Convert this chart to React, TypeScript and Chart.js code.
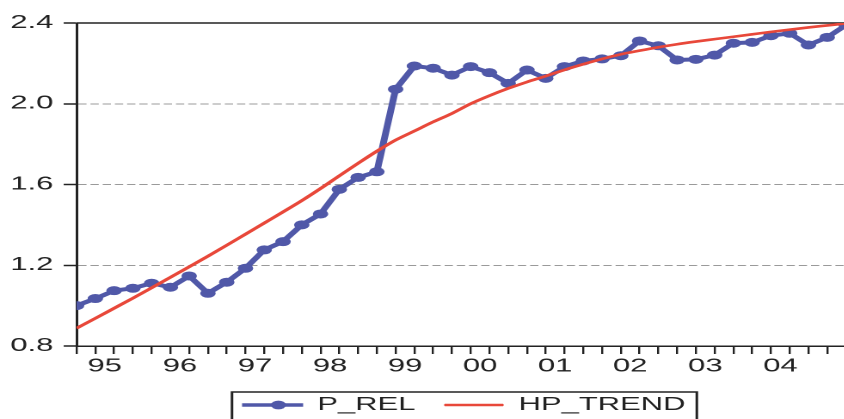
import React, { useEffect, useRef } from 'react';
import { Chart, registerables } from 'chart.js';

Chart.register(...registerables);

// Year tick labels shown on the axis (one label per year, centred on the year)
const yearLabels = ['95', '96', '97', '98', '99', '00', '01', '02', '03', '04'];
const quarterNames = ['Q1', 'Q2', 'Q3', 'Q4'];

const pRel = [
  1.0, 1.035, 1.074, 1.086,
  1.111, 1.091, 1.147, 1.061,
  1.116, 1.185, 1.276, 1.317,
  1.4, 1.454, 1.576, 1.635,
  1.663, 2.072, 2.187, 2.176,
  2.142, 2.184, 2.154, 2.101,
  2.167, 2.126, 2.184, 2.212,
  2.222, 2.238, 2.311, 2.287,
  2.217, 2.22, 2.241, 2.3,
  2.304, 2.337, 2.349, 2.291,
  2.329, 2.39,
];

const hpTrend = [
  0.888, 0.937, 0.987, 1.037,
  1.088, 1.14, 1.192, 1.245,
  1.299, 1.354, 1.409, 1.464,
  1.52, 1.58, 1.643, 1.705,
  1.765, 1.82, 1.865, 1.91,
  1.952, 2.0, 2.04, 2.076,
  2.108, 2.137, 2.168, 2.196,
  2.222, 2.245, 2.263, 2.28,
  2.295, 2.308, 2.32, 2.332,
  2.344, 2.356, 2.367, 2.378,
  2.388, 2.398,
];

// Quarterly observations 1995Q1 .. 2005Q2
const quarterLabels = pRel.map((_, i) => `${1995 + Math.floor(i / 4)}${quarterNames[i % 4]}`);

const yTicks = [0.8, 1.2, 1.6, 2.0, 2.4];

const BLUE = '#5058a8';
const RED = '#e8483a';
const INK = '#222222';
const FONT = "'Liberation Sans', Arial, sans-serif";
const STRETCH = 1.72;
const W = 540;
const H = 430;

const framePlugin = {
  id: 'frameAndLegendBox',
  beforeDatasetsDraw(chart: any) {
    const { ctx, chartArea } = chart;
    ctx.save();
    ctx.strokeStyle = INK;
    ctx.lineWidth = 1.5;
    ctx.beginPath();
    ctx.moveTo(chartArea.left, chartArea.top);
    ctx.lineTo(chartArea.right, chartArea.top);
    ctx.stroke();
    ctx.restore();
  },
  afterDraw(chart: any) {
    const { ctx } = chart;
    const legend = chart.legend;
    const boxes = legend && legend.legendHitBoxes;
    if (!boxes || !boxes.length) return;
    const left = Math.min(...boxes.map((b: any) => b.left)) - 6.6;
    const right = Math.max(...boxes.map((b: any) => b.left + b.width)) + 6.6;
    const top = Math.min(...boxes.map((b: any) => b.top)) - 4;
    const bottom = Math.max(...boxes.map((b: any) => b.top + b.height)) + 12;
    ctx.save();
    ctx.strokeStyle = INK;
    ctx.lineWidth = 1.5;
    ctx.strokeRect(left, top, right - left, bottom - top);
    const b0 = boxes[0];
    const bw = legend.options.labels.boxWidth;
    ctx.fillStyle = BLUE;
    ctx.beginPath();
    ctx.arc(b0.left + bw * 0.6, b0.top + b0.height / 2, 4.4, 0, Math.PI * 2);
    ctx.fill();
    ctx.restore();
  },
};

export default function App() {
  const canvasRef = useRef<HTMLCanvasElement | null>(null);

  useEffect(() => {
    if (!canvasRef.current) return;
    const legendLineWidths = [1.5, 0.5];
    const chart = new Chart(canvasRef.current, {
      type: 'line',
      data: {
        labels: quarterLabels,
        datasets: [
          {
            label: 'P_REL',
            data: pRel.map((v, i) => ({ x: i, y: v })),
            borderColor: BLUE,
            backgroundColor: BLUE,
            borderWidth: 4,
            pointRadius: 4.5,
            pointBorderWidth: 0,
            pointBackgroundColor: BLUE,
            tension: 0,
            order: 1,
          },
          {
            label: 'HP_TREND',
            data: hpTrend.map((v, i) => ({ x: i, y: v })),
            borderColor: RED,
            backgroundColor: RED,
            borderWidth: 2.6,
            pointRadius: 0,
            cubicInterpolationMode: 'monotone',
            order: 0,
          },
        ],
      },
      options: {
        animation: false,
        responsive: true,
        maintainAspectRatio: false,
        devicePixelRatio: 2,
        events: [],
        layout: { padding: { top: 23, left: 0, right: 0, bottom: 6 } },
        plugins: {
          tooltip: { enabled: false },
          legend: {
            position: 'bottom',
            labels: {
              boxWidth: 34,
              boxHeight: 2,
              padding: 17,
              color: INK,
              font: { family: FONT, size: 18 },
              generateLabels: (c: any) =>
                c.data.datasets.map((ds: any, i: number) => ({
                  text: ds.label,
                  fillStyle: ds.borderColor,
                  strokeStyle: ds.borderColor,
                  lineWidth: legendLineWidths[i],
                  hidden: false,
                  datasetIndex: i,
                  fontColor: INK,
                })),
            },
          },
        },
        scales: {
          x: {
            type: 'linear',
            min: 0,
            max: 45,
            grid: {
              display: true,
              drawOnChartArea: false,
              drawTicks: true,
              tickLength: 8,
              color: INK,
              lineWidth: 1.2,
            },
            border: { display: true, color: INK, width: 1.5 },
            ticks: {
              stepSize: 1,
              autoSkip: false,
              maxRotation: 0,
              minRotation: 0,
              maxTicksLimit: 1000,
              padding: 1.7,
              labelOffset: 5.5,
              color: INK,
              font: { family: FONT, size: 18 },
              callback: (value: any) => {
                const v = Number(value);
                if (v % 4 !== 1) return '';
                return yearLabels[(v - 1) / 4] ?? '';
              },
            },
          },
          y: {
            min: yTicks[0],
            max: yTicks[yTicks.length - 1],
            afterBuildTicks: (scale: any) => {
              scale.ticks = yTicks.map((v) => ({ value: v }));
            },
            grid: {
              color: (ctx: any) => {
                const v = ctx.tick ? ctx.tick.value : 0;
                if (Math.abs(v - yTicks[0]) < 1e-6 || Math.abs(v - yTicks[yTicks.length - 1]) < 1e-6) {
                  return 'rgba(0,0,0,0)';
                }
                return '#9a9a9a';
              },
              lineWidth: 1,
              tickLength: 7.5,
              tickColor: INK,
              tickWidth: 1.5,
            },
            border: { display: true, color: INK, width: 1.5, dash: [4.8, 2.3] },
            ticks: {
              padding: 6,
              color: INK,
              font: { family: FONT, size: 18 },
              callback: (value: any) => Number(value).toFixed(1),
            },
          },
        },
      },
      plugins: [framePlugin],
    } as any);
    return () => chart.destroy();
  }, []);

  return (
    <div
      style={{
        position: 'fixed',
        left: 0,
        top: 0,
        width: 844,
        height: 419,
        overflow: 'hidden',
        background: '#ffffff',
      }}
    >
      <div
        style={{
          position: 'relative',
          width: W,
          height: H,
          transform: `scaleX(${STRETCH})`,
          transformOrigin: '0 0',
        }}
      >
        <canvas ref={canvasRef} />
      </div>
    </div>
  );
}
